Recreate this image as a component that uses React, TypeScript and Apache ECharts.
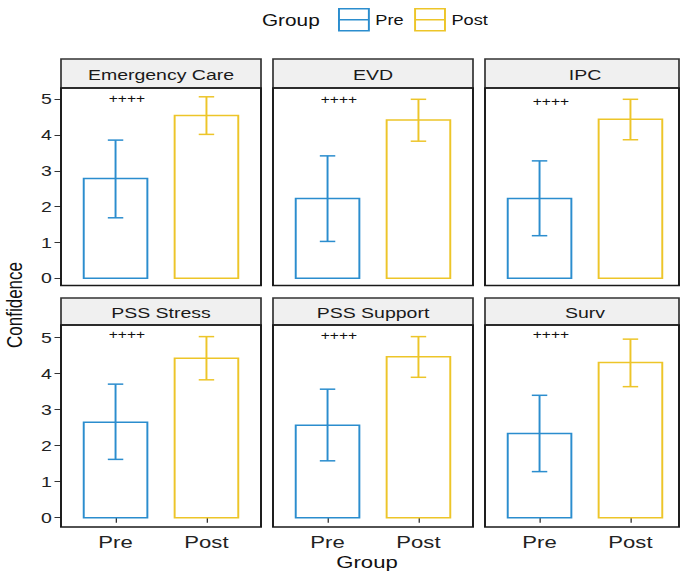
import React, { useEffect, useRef } from "react";
import * as echarts from "echarts";

// ---------------- data ----------------
const panels = ["Emergency Care", "EVD", "IPC", "PSS Stress", "PSS Support", "Surv"];
const groups = ["Pre", "Post"];
const preMean = [2.79, 2.23, 2.23, 2.65, 2.57, 2.34];
const preLow = [1.69, 1.03, 1.19, 1.62, 1.58, 1.28];
const preHigh = [3.86, 3.42, 3.28, 3.71, 3.57, 3.40];
const postMean = [4.55, 4.42, 4.44, 4.43, 4.47, 4.31];
const postLow = [4.02, 3.83, 3.87, 3.83, 3.90, 3.64];
const postHigh = [5.07, 5.00, 5.00, 5.03, 5.03, 4.96];
const sigLabel = "++++";
const sigY = [5.03, 5.0, 4.93, 5.09, 5.05, 5.09];
const yTicks = [0, 1, 2, 3, 4, 5];

// ---------------- style / layout ----------------
const S = 1.3; // horizontal stretch of the picture
const CW = 681 / S;
const PRE_COLOR = "#2B8DCE";
const POST_COLOR = "#EDC529";
const FONT = "Liberation Sans, Arial, Helvetica, sans-serif";
const PANEL_LEFT = [61, 273, 485];
const PANEL_W = 200;
const FRAME_RIGHT_MAX = 679;
const ROWS = [
  { stripTop: 59, stripBottom: 88, plotBottom: 285.5, y5: 99.3, y0: 278.3 },
  { stripTop: 298, stripBottom: 325, plotBottom: 527, y5: 337.7, y0: 517.7 },
];

function renderBar(params: any, api: any) {
  const x = api.value(0);
  const mean = api.value(1);
  const lo = api.value(2);
  const hi = api.value(3);
  const band = api.size([1, 0])[0];
  const top = api.coord([x, mean]);
  const cx = top[0];
  const base = api.coord([x, 0])[1];
  const yLo = api.coord([x, lo])[1];
  const yHi = api.coord([x, hi])[1];
  const hw = band * 0.35;
  const cap = band * 0.085;
  const color = api.visual("color");
  const ls = { stroke: color, lineWidth: 1.5, fill: null };
  return {
    type: "group",
    children: [
      {
        type: "rect",
        shape: { x: cx - hw, y: top[1], width: hw * 2, height: base - top[1] },
        style: { fill: "#fff", stroke: color, lineWidth: 1.5 },
      },
      { type: "line", shape: { x1: cx, y1: yLo, x2: cx, y2: yHi }, style: ls },
      { type: "line", shape: { x1: cx - cap, y1: yLo, x2: cx + cap, y2: yLo }, style: ls },
      { type: "line", shape: { x1: cx - cap, y1: yHi, x2: cx + cap, y2: yHi }, style: ls },
    ],
  };
}

function renderSig(params: any, api: any) {
  const band = api.size([1, 0])[0];
  const p = api.coord([api.value(0), api.value(1)]);
  return {
    type: "text",
    x: p[0] + band * 0.125,
    y: p[1],
    style: {
      text: sigLabel,
      fill: "#111",
      fontSize: 12,
      fontFamily: FONT,
      align: "center",
      verticalAlign: "middle",
    },
  };
}

function buildOption() {
  const grid: any[] = [];
  const xAxis: any[] = [];
  const yAxis: any[] = [];
  const series: any[] = [];
  const graphic: any[] = [];

  panels.forEach((name, i) => {
    const row = Math.floor(i / 3);
    const col = i % 3;
    const g = ROWS[row];
    const pl = PANEL_LEFT[col];
    const gl = pl + PANEL_W * (0.1 / 2.2);
    const gw = PANEL_W * (2 / 2.2);
    grid.push({
      left: gl / S,
      width: gw / S,
      top: g.y5,
      height: g.y0 - g.y5,
      containLabel: false,
      outerBoundsMode: "none",
    });
    const bottomRow = row === 1;
    const leftCol = col === 0;
    xAxis.push({
      type: "category",
      gridIndex: i,
      data: groups,
      boundaryGap: true,
      offset: g.plotBottom - g.y0,
      axisLine: { show: false },
      axisTick: {
        show: bottomRow,
        alignWithLabel: true,
        length: 5,
        lineStyle: { color: "#333", width: 1 },
      },
      axisLabel: {
        show: bottomRow,
        fontSize: 17,
        color: "#222",
        fontFamily: FONT,
        margin: 6,
      },
      splitLine: { show: false },
    });
    yAxis.push({
      type: "value",
      gridIndex: i,
      min: 0,
      max: 5,
      interval: 1,
      offset: (PANEL_W * (0.1 / 2.2)) / S,
      axisLine: { show: false },
      axisTick: { show: leftCol, length: 5, lineStyle: { color: "#333", width: 1 } },
      axisLabel: {
        show: leftCol,
        fontSize: 15,
        color: "#222",
        fontFamily: FONT,
        margin: 7,
        customValues: yTicks,
      },
      splitLine: { show: false },
    });
    series.push({
      type: "custom",
      name: "Pre",
      xAxisIndex: i,
      yAxisIndex: i,
      clip: false,
      itemStyle: { color: PRE_COLOR },
      renderItem: renderBar,
      encode: { x: 0, y: 1 },
      data: [[0, preMean[i], preLow[i], preHigh[i]]],
      silent: true,
    });
    series.push({
      type: "custom",
      name: "Post",
      xAxisIndex: i,
      yAxisIndex: i,
      clip: false,
      itemStyle: { color: POST_COLOR },
      renderItem: renderBar,
      encode: { x: 0, y: 1 },
      data: [[1, postMean[i], postLow[i], postHigh[i]]],
      silent: true,
    });
    series.push({
      type: "custom",
      name: "sig",
      xAxisIndex: i,
      yAxisIndex: i,
      clip: false,
      renderItem: renderSig,
      encode: { x: 0, y: 1 },
      data: [[0, sigY[i]]],
      silent: true,
    });

    const x0 = pl / S;
    const w = (Math.min(pl + PANEL_W, FRAME_RIGHT_MAX) - pl) / S;
    graphic.push({
      type: "rect",
      shape: { x: x0, y: g.stripTop, width: w, height: g.stripBottom - g.stripTop },
      style: { fill: "#F0F0F0", stroke: "#333", lineWidth: 1.3 },
      z: 0,
      silent: true,
    });
    graphic.push({
      type: "rect",
      shape: { x: x0, y: g.stripBottom, width: w, height: g.plotBottom - g.stripBottom },
      style: { fill: "none", stroke: "#1a1a1a", lineWidth: 1.5 },
      z: 1,
      silent: true,
    });
    graphic.push({
      type: "text",
      x: (pl + PANEL_W / 2) / S,
      y: (g.stripTop + g.stripBottom) / 2 + 1,
      style: {
        text: name,
        fill: "#1a1a1a",
        fontSize: 15,
        fontFamily: FONT,
        align: "center",
        verticalAlign: "middle",
      },
      silent: true,
    });
  });

  graphic.push({
    type: "text",
    x: 201.5,
    y: 20,
    style: {
      text: "Group",
      fill: "#111",
      fontSize: 16,
      fontFamily: FONT,
      align: "left",
      verticalAlign: "middle",
    },
  });
  graphic.push({
    type: "text",
    x: 367 / S,
    y: 562,
    style: {
      text: "Group",
      fill: "#111",
      fontSize: 17,
      fontFamily: FONT,
      align: "center",
      verticalAlign: "middle",
    },
  });
  graphic.push({
    type: "text",
    x: 14 / S,
    y: 305,
    rotation: Math.PI / 2,
    style: {
      text: "Confidence",
      fill: "#111",
      fontSize: 17,
      fontFamily: FONT,
      align: "center",
      verticalAlign: "middle",
    },
  });

  const keyIcon = "path://M0,0L23,0L23,22L0,22Z M0,11L23,11";
  return {
    animation: false,
    backgroundColor: "#fff",
    textStyle: { fontFamily: FONT },
    legend: {
      left: 260,
      top: 8,
      padding: 0,
      itemWidth: 23,
      itemHeight: 22,
      itemGap: 8,
      selectedMode: false,
      textStyle: { fontSize: 14, color: "#111", fontFamily: FONT },
      data: [
        { name: "Pre", icon: keyIcon, itemStyle: { color: "#fff", borderColor: PRE_COLOR, borderWidth: 1.5 } },
        { name: "Post", icon: keyIcon, itemStyle: { color: "#fff", borderColor: POST_COLOR, borderWidth: 1.5 } },
      ],
    },
    grid,
    xAxis,
    yAxis,
    series,
    graphic,
  };
}

export default function App() {
  const ref = useRef<HTMLDivElement>(null);
  useEffect(() => {
    if (!ref.current) return;
    const chart = echarts.init(ref.current, null, { renderer: "svg" });
    chart.setOption(buildOption() as any);
    return () => chart.dispose();
  }, []);
  return (
    <div
      style={{
        position: "fixed",
        left: 0,
        top: 0,
        width: 681,
        height: 572,
        overflow: "hidden",
        background: "#fff",
      }}
    >
      <div
        ref={ref}
        style={{
          width: CW,
          height: 572,
          transform: `scaleX(${S})`,
          transformOrigin: "0 0",
        }}
      />
    </div>
  );
}
